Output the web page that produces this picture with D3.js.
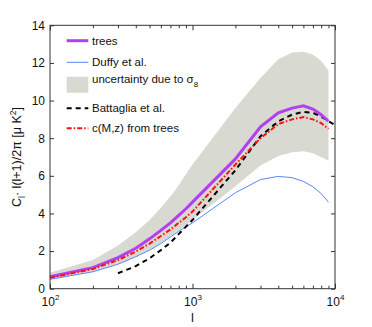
<!DOCTYPE html>
<html><head><meta charset="utf-8">
<script src="https://cdn.jsdelivr.net/npm/d3@7"></script>
<style>body{margin:0;background:#fff}text{font-family:"Liberation Sans",Arial,sans-serif}</style>
</head><body><svg id="c" width="372" height="327"></svg>
<script>
const ells      = [100,200,300,400,500,600,700,800,900,1000,2000,3000,4000,5000,6000,7000,8000,9000];
const trees     = [0.64,1.12,1.65,2.15,2.65,3.1,3.5,3.9,4.25,4.6,6.9,8.6,9.35,9.6,9.72,9.55,9.25,8.9];
const duffy     = [0.5,0.9,1.3,1.7,2.05,2.4,2.75,3.05,3.3,3.5,5.1,5.8,5.97,5.9,5.7,5.42,5.05,4.6];
const bandLow   = [0.48,0.9,1.3,1.7,2.07,2.43,2.78,3.1,3.38,3.65,5.45,6.55,7.05,7.25,7.3,7.2,7.0,6.8];
const bandHigh  = [0.85,1.52,2.3,3.0,3.65,4.3,4.9,5.5,6.1,6.6,9.6,11.2,12.2,12.55,12.6,12.45,12.1,11.6];
const cmzTrees  = [0.58,1.05,1.52,1.97,2.4,2.8,3.15,3.5,3.8,4.1,6.6,8.0,8.75,9.0,9.12,9.0,8.8,8.5];
const battEll   = [300,400,500,600,700,800,900,1000,2000,3000,4000,5000,6000,7000,8000,9000,10000];
const battaglia = [0.82,1.2,1.62,2.05,2.45,2.9,3.3,3.65,6.3,8.1,8.9,9.25,9.4,9.35,9.15,8.9,8.7];
const yTicks = [0,2,4,6,8,10,12,14];
const xMajor = [100,1000,10000];
const xExp = ["2","3","4"];

const svg = d3.select("#c");
const L=50,R=335,T=25.3,B=288.7;
const x = d3.scaleLog().domain([100,10000]).range([L,R]);
const y = d3.scaleLinear().domain([0,14]).range([B,T]);

// band
const area = d3.area().x((d,i)=>x(ells[i])).y0((d,i)=>y(bandLow[i])).y1((d,i)=>y(bandHigh[i]));
svg.append("path").datum(ells).attr("d",area).attr("fill","#d8d9d0");

const line = (xs,ys)=>d3.line().x((d,i)=>x(xs[i])).y((d,i)=>y(ys[i]))(xs);
svg.append("path").attr("d",line(ells,duffy)).attr("fill","none").attr("stroke","#5a86ff").attr("stroke-width",1);
svg.append("path").attr("d",line(battEll,battaglia)).attr("fill","none").attr("stroke","#000").attr("stroke-width",2).attr("stroke-dasharray","5,4");
svg.append("path").attr("d",line(ells,trees)).attr("fill","none").attr("stroke","#b23ff0").attr("stroke-width",3);
svg.append("path").attr("d",line(ells,cmzTrees)).attr("fill","none").attr("stroke","#ff1010").attr("stroke-width",2).attr("stroke-dasharray","5,2,1.5,2");

// axes
const minors = [];
[100,1000].forEach(b=>{for(let k=2;k<=9;k++)minors.push(b*k);});
const gAx = svg.append("g").attr("class","ax");
const left = gAx.append("g").attr("transform",`translate(${L},0)`).call(d3.axisLeft(y).tickValues(yTicks).tickSize(-4).tickPadding(5).tickFormat(d3.format("d")));
gAx.append("g").attr("transform",`translate(${R},0)`).call(d3.axisRight(y).tickValues(yTicks).tickSize(-4).tickFormat(""));
const bot = gAx.append("g").attr("transform",`translate(0,${B})`).call(d3.axisBottom(x).tickValues(xMajor).tickSize(-5).tickPadding(10).tickFormat(""));
gAx.append("g").attr("transform",`translate(0,${B})`).call(d3.axisBottom(x).tickValues(minors).tickSize(-3).tickFormat(""));
gAx.append("g").attr("transform",`translate(0,${T})`).call(d3.axisTop(x).tickValues(xMajor).tickSize(-5).tickFormat(""));
gAx.append("g").attr("transform",`translate(0,${T})`).call(d3.axisTop(x).tickValues(minors).tickSize(-3).tickFormat(""));
gAx.selectAll(".domain").remove();
gAx.selectAll("line").attr("stroke","#333");
svg.append("rect").attr("x",L).attr("y",T).attr("width",R-L).attr("height",B-T).attr("fill","none").attr("stroke","#333").attr("stroke-width",1);
left.selectAll("text").attr("font-size",12).attr("fill","#111").attr("font-family","Liberation Sans, Arial");
bot.selectAll(".tick").each(function(d,i){
  const t=d3.select(this).select("text");
  t.text("").attr("font-size",12).attr("fill","#111").attr("y",17).attr("dy",0).attr("font-family","Liberation Sans, Arial");
  t.append("tspan").text("10");
  t.append("tspan").attr("dy",-6).attr("font-size",8).text(xExp[i]);
});

// axis labels
svg.append("text").attr("x",(L+R)/2).attr("y",322).attr("text-anchor","middle").attr("font-size",13).attr("fill","#111").text("l");
const yl = svg.append("text").attr("transform",`translate(21,${(T+B)/2}) rotate(-90)`).attr("text-anchor","middle").attr("font-size",12.5).attr("fill","#111");
yl.append("tspan").text("C");
yl.append("tspan").attr("font-size",8.5).attr("dy",4).text("l");
yl.append("tspan").attr("dy",-4).text("· l(l+1)/2π [μ K");
yl.append("tspan").attr("font-size",8.5).attr("dy",-5).text("2");
yl.append("tspan").attr("dy",5).text("]");

// legend
const lg = svg.append("g");
const lx0=66.7,lx1=88.3,tx=92;
const rows=[40.7,62.3,84.5,108.3,128.3];
lg.append("line").attr("x1",lx0).attr("x2",lx1).attr("y1",rows[0]).attr("y2",rows[0]).attr("stroke","#b23ff0").attr("stroke-width",3);
lg.append("line").attr("x1",lx0).attr("x2",lx1).attr("y1",rows[1]).attr("y2",rows[1]).attr("stroke","#5a86ff").attr("stroke-width",1);
lg.append("rect").attr("x",lx0).attr("y",76.7).attr("width",lx1-lx0).attr("height",16).attr("fill","#d8d9d0");
lg.append("line").attr("x1",lx0).attr("x2",lx1).attr("y1",rows[3]).attr("y2",rows[3]).attr("stroke","#000").attr("stroke-width",2).attr("stroke-dasharray","5,4");
lg.append("line").attr("x1",lx0).attr("x2",lx1).attr("y1",rows[4]).attr("y2",rows[4]).attr("stroke","#ff1010").attr("stroke-width",2).attr("stroke-dasharray","5,2,1.5,2");
const labels=["trees","Duffy et al.",null,"Battaglia et al.","c(M,z) from trees"];
labels.forEach((s,i)=>{ if(s) lg.append("text").attr("x",tx).attr("y",rows[i]+4).attr("font-size",11.5).attr("fill","#111").text(s); });
const ut = lg.append("text").attr("x",tx).attr("y",rows[2]-2).attr("font-size",11.5).attr("fill","#111");
ut.append("tspan").text("uncertainty due to σ");
ut.append("tspan").attr("font-size",8).attr("dy",4).text("8");
</script></body></html>
